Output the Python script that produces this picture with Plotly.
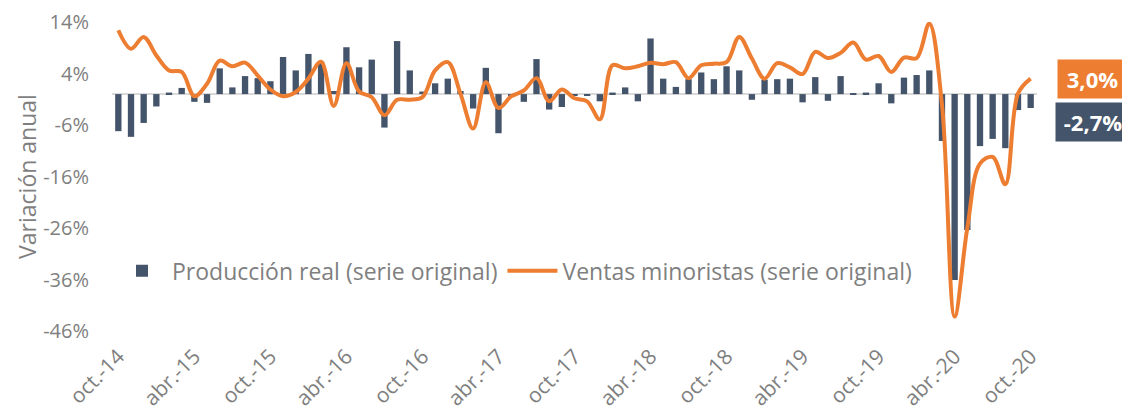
import plotly.graph_objects as go

months = ["ene.", "feb.", "mar.", "abr.", "may.", "jun.", "jul.", "ago.", "sep.", "oct.", "nov.", "dic."]
categories = []
for yr in range(14, 21):
    for m in months:
        lab = f"{m}-{yr}"
        categories.append(lab)
categories = categories[categories.index("oct.-14"):categories.index("oct.-20") + 1]

produccion = [
    -7.2, -8.3, -5.6, -2.4, 0.3, 1.2, -1.5, -1.7, 5.0, 1.3, 3.5, 3.1,
    2.5, 7.2, 4.6, 7.8, 6.3, 0.6, 9.1, 5.2, 6.7, -6.5, 10.3, 4.6,
    0.5, 2.1, 3.0, 0.6, -2.8, 5.1, -7.6, -0.5, -1.5, 6.8, -3.0, -2.5,
    -0.3, -0.3, -1.4, 0.3, 1.3, -1.4, 10.8, 3.0, 1.4, 2.9, 4.2, 2.9,
    5.4, 4.6, -1.1, 2.8, 2.9, 3.0, -1.6, 3.3, -1.3, 3.5, 0.2, 0.3,
    2.1, -1.8, 3.2, 3.7, 4.6, -9.1, -36.1, -26.4, -10.1, -8.7, -10.5, -3.1,
    -2.7,
]
ventas = [
    12.4, 8.8, 11.1, 7.5, 4.6, 4.3, -0.4, 2.0, 6.5, 5.4, 6.1, 3.6,
    0.9, -0.4, 0.4, 3.0, 6.3, -2.3, 6.0, 0.5, -0.6, -4.1, -1.1, -1.1,
    -0.6, 4.6, 6.2, 0.1, -6.7, 2.3, -2.7, -0.45, 0.7, 3.1, -1.4, 0.9,
    -0.8, -1.4, -4.9, 5.6, 5.0, 5.4, 6.1, 5.8, 6.2, 3.1, 5.6, 5.9,
    6.2, 11.1, 6.9, 3.0, 6.0, 5.2, 3.9, 8.2, 7.0, 8.0, 10.0, 6.7,
    7.4, 4.3, 7.1, 7.0, 13.7, -2.0, -43.2, -26.0, -13.5, -12.2, -17.5, 0.1,
    3.0,
]
tick_labels = categories[::6]
y_ticks = [14, 4, -6, -16, -26, -36, -46]

BAR_COLOR = "#44546A"
LINE_COLOR = "#ED7D31"
GRAY = "#7F7F7F"
FONT = "Open Sans"

fig = go.Figure()
fig.add_trace(go.Bar(
    x=categories, y=produccion, name="Producción real (serie original)",
    marker=dict(color=BAR_COLOR, line=dict(width=0)), width=0.5,
))
fig.add_trace(go.Scatter(
    x=categories, y=ventas, name="Ventas minoristas (serie original)",
    mode="lines", line=dict(color=LINE_COLOR, width=4, shape="spline", smoothing=1.0),
))

def fmt(v):
    return f"{v:.1f}".replace(".", ",") + "%"

fig.add_annotation(
    xref="paper", yref="y", x=1.0605, y=ventas[-1], xanchor="center", yanchor="middle",
    text=f"<b>{fmt(ventas[-1])}</b>", showarrow=False, width=61,
    font=dict(family=FONT, size=22, color="white"), bgcolor=LINE_COLOR, borderpad=4,
)
fig.add_annotation(
    xref="paper", yref="y", x=1.0605, y=-5.5, xanchor="center", yanchor="middle",
    text=f"<b>{fmt(produccion[-1])}</b>", showarrow=False, width=66,
    font=dict(family=FONT, size=22, color="white"), bgcolor=BAR_COLOR, borderpad=4,
)

fig.update_layout(
    width=1122, height=412,
    margin=dict(l=104, r=93, t=14, b=89),
    paper_bgcolor="white", plot_bgcolor="white",
    font=dict(family=FONT, color=GRAY, size=22),
    bargap=0.5,
    showlegend=True,
    legend=dict(
        orientation="h", x=0, y=0.195, xanchor="left", yanchor="middle",
        font=dict(family=FONT, size=23, color=GRAY), bgcolor="rgba(0,0,0,0)",
        itemwidth=50, tracegroupgap=0,
    ),
)
fig.update_xaxes(
    type="category", tickmode="array", tickvals=tick_labels, ticktext=tick_labels,
    tickangle=-45, showgrid=False, showline=False, zeroline=False, ticks="",
    tickfont=dict(family=FONT, size=21, color=GRAY), range=[-0.5, len(categories) - 0.5],
    automargin=False, ticklabelstandoff=8, ticklabeloverflow="allow",
)
fig.update_yaxes(
    range=[-46, 14], tickmode="array", tickvals=y_ticks,
    ticktext=[f"{v}%" for v in y_ticks], showgrid=False, showline=False,
    zeroline=True, zerolinecolor="#D9D9D9", zerolinewidth=2, ticks="",
    tickfont=dict(family=FONT, size=20, color=GRAY), automargin=False,
    ticklabelstandoff=22, ticklabeloverflow="allow",
    title=dict(text="Variación anual", font=dict(family=FONT, size=23, color=GRAY), standoff=0),
)

fig.write_html("out.html")
